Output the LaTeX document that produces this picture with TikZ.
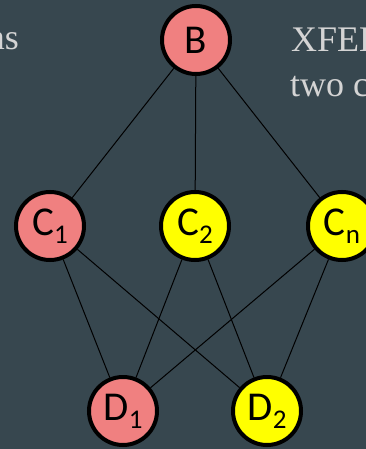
\documentclass[tikz,border=0pt]{standalone}
\usepackage{fontspec}
\setmainfont{Liberation Serif}
\newfontfamily\nodefont{Carlito}
\definecolor{bgc}{HTML}{37474F}
\definecolor{pinkc}{HTML}{F08080}
\definecolor{yellc}{HTML}{FFFF00}
\definecolor{txtc}{HTML}{D4D4D4}
\newcommand{\nsub}[1]{{\fontsize{27}{27}\selectfont\raisebox{-8pt}{#1}}}
\tikzset{
  vtx/.style={circle, draw=black, line width=4pt, minimum size=68pt, inner sep=0pt,
    font=\nodefont\fontsize{41}{41}\selectfont, text=black},
  pinkv/.style={vtx, fill=pinkc},
  yellv/.style={vtx, fill=yellc},
  edge/.style={draw=black, line width=1pt},
  bgtext/.style={text=txtc, font=\fontsize{36}{45}\selectfont, inner sep=0pt}
}
\begin{document}
\begin{tikzpicture}[x=1pt,y=-1pt]
\useasboundingbox (0,0) rectangle (366,449);
\clip (0,0) rectangle (366,449);
\fill[bgc] (0,0) rectangle (366,449);
\node[bgtext, anchor=base east] (t1) at (19,50) {ns};
\node[bgtext, anchor=base west] (t2) at (291,52) {XFEL};
\node[bgtext, anchor=base west] (t3) at (290,97) {two c};
\node[pinkv] (B) at (196,40) {B};
\node[pinkv] (C1) at (50,226) {C\nsub{1}};
\node[yellv] (C2) at (195,226) {C\nsub{2}};
\node[yellv] (Cn) at (342,226) {C\nsub{n}};
\node[pinkv] (D1) at (123,411) {D\nsub{1}};
\node[yellv] (D2) at (267,411) {D\nsub{2}};
\draw[edge] (B) -- (C1);
\draw[edge] (B) -- (C2);
\draw[edge] (B) -- (Cn);
\draw[edge] (C1) -- (D1);
\draw[edge] (C1) -- (D2);
\draw[edge] (C2) -- (D1);
\draw[edge] (C2) -- (D2);
\draw[edge] (Cn) -- (D1);
\draw[edge] (Cn) -- (D2);
\end{tikzpicture}
\end{document}
